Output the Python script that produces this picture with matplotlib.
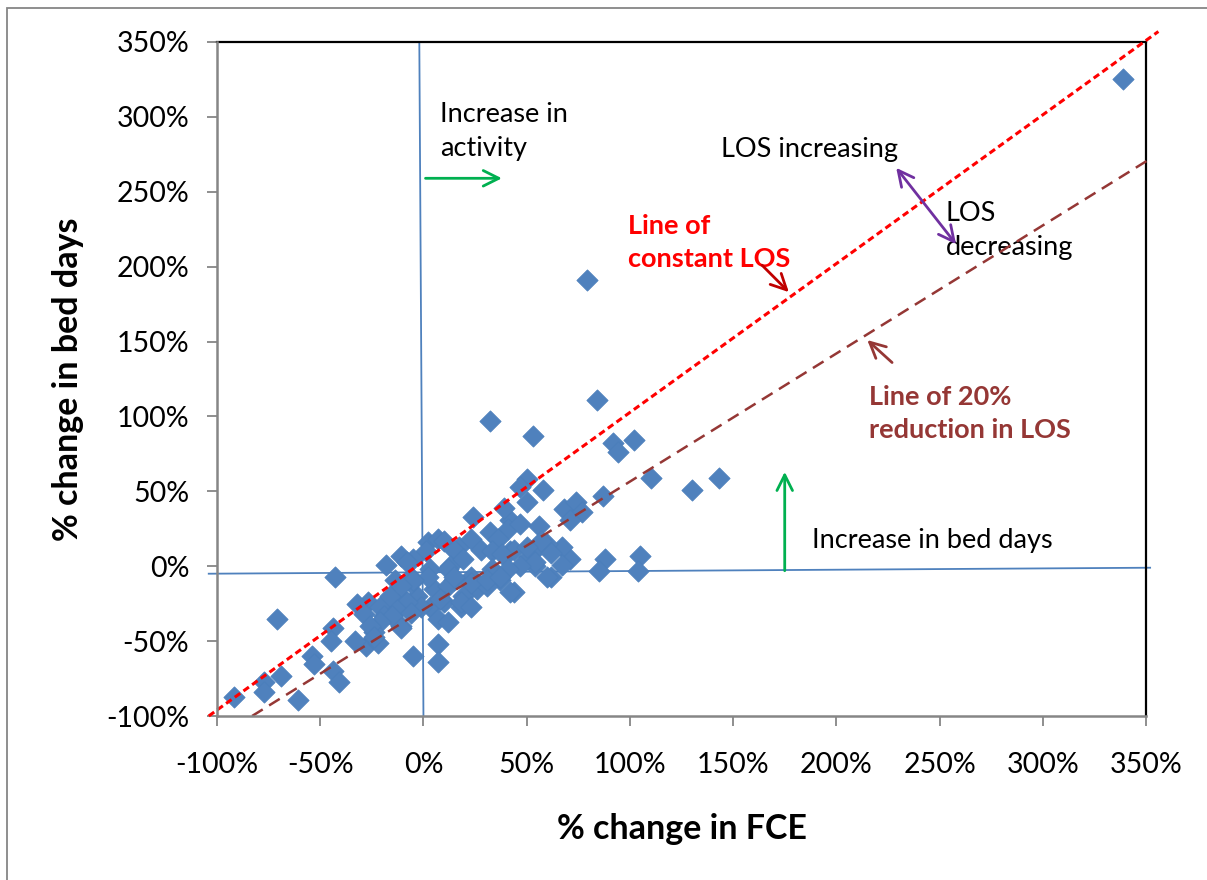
import matplotlib
matplotlib.use('Agg')
import matplotlib.pyplot as plt
import matplotlib.patches as mpatches
from matplotlib.ticker import FuncFormatter


# % change in FCE (x) and % change in bed days (y).
FCE_CHANGE = [
    339, 79, 84, 32, 53, 102, 92, 94, 110, 130, 143, 87, 105, 104, 88, 85, 71, 62, 44,
    50, 58, 47, 50, 68, 74, 77, 71, 56, 42, 41, 39, 24, 32, 47, 67, 60, 54, 51, 42,
    67, 54, 57, 62, 54, 60, 47, 44, 50,
    2, 7, 10, 1, 17, 23, 28, 36, 33, 38, 15, -5, -6, 3, 13, 19, 12, 15, 23, 33, 37,
    41, 26, 19, 31, 42, -3, 5, 12, 10, 3, 18, 2, 15, 23, 31, 37, 8, 18, 23, -1, 7,
    12, 7, 7, -5,
    -18, -11, -8, -14, -6, -5, -27, -21, -10, -16, -11, -8, -13, -19, -11, -15, -6,
    -21, -24, -28, -22, -11, -43, -71, -32, -44, -45, -33, -29, -26, -24, -54, -53,
    -44, -41, -69, -77, -77, -61, -92,
]
BED_DAYS_CHANGE = [
    325, 191, 111, 97, 87, 84, 82, 76, 59, 51, 59, 47, 7, -3, 5, -3, 5, -7, -17,
    58, 51, 53, 43, 38, 43, 36, 31, 27, 31, 25, 39, 33, 23, 28, 13, 15, 11, 6, 10,
    1, 0, 17, 9, 3, -7, 0, 11, 13,
    16, 18, 17, 10, 13, 18, 11, 18, 10, 8, 11, 5, -7, -2, 0, 5, -2, -9, -7, -2, -9,
    -2, -15, -20, -13, -17, -20, -15, -13, -24, -27, -27, -7, -7, -11, -9, -7, -22,
    -24, -27, -27, -35, -37, -52, -64, -60,
    1, 7, 3, -9, -11, -9, -24, -27, -22, -20, -13, -24, -29, -33, -40, -33, -31,
    -37, -44, -53, -51, -41, -7, -35, -25, -41, -50, -50, -32, -40, -47, -60, -65,
    -70, -77, -73, -77, -84, -89, -87,
]

# Reference lines (start and end points, in %).
CONSTANT_LOS_X = [-104, 356]
CONSTANT_LOS_Y = [-100, 357]
REDUCED_LOS_X = [-83, 352]
REDUCED_LOS_Y = [-100, 272]
ZERO_FCE_X = [-2, 0]
ZERO_FCE_Y = [350, -100]
ZERO_BED_X = [-104, 352]
ZERO_BED_Y = [-5, -1]

TICKS = [-100, -50, 0, 50, 100, 150, 200, 250, 300, 350]

BLUE = '#4F81BD'
GREY = '#868686'
FONT = 'Lato'

plt.rcParams['font.family'] = [FONT, 'DejaVu Sans']


def percent(value, _pos):
    return f'{value:.0f}%'


def main():
    fig = plt.figure(figsize=(12.07, 8.8), dpi=100)
    ax = fig.add_axes([217 / 1207, 1 - 716 / 880, 929 / 1207, 674 / 880])

    # Outer chart border (only left and top are visible in the crop).
    fig.add_artist(mpatches.Rectangle((7 / 1207, -0.1), 1.2, 1 - 8 / 880 + 0.1,
                                      transform=fig.transFigure, fill=False,
                                      edgecolor=GREY, linewidth=1.3))

    ax.set_xlim(-100, 350)
    ax.set_ylim(-100, 350)
    ax.set_xticks(TICKS)
    ax.set_yticks(TICKS)
    ax.xaxis.set_major_formatter(FuncFormatter(percent))
    ax.yaxis.set_major_formatter(FuncFormatter(percent))
    ax.tick_params(axis='both', direction='out', length=7, width=1.3, color=GREY,
                   labelsize=20.5, pad=13)
    ax.tick_params(axis='x', pad=19)

    for side in ('top', 'right'):
        ax.spines[side].set_color('black')
        ax.spines[side].set_linewidth(1.6)
    for side in ('left', 'bottom'):
        ax.spines[side].set_color(GREY)
        ax.spines[side].set_linewidth(1.8)
        ax.spines[side].set_zorder(5)

    ax.set_xlabel('% change in FCE', fontsize=24.5, fontweight='bold', labelpad=25)
    ax.set_ylabel('% change in bed days', fontsize=24.5, fontweight='bold', labelpad=16)

    # Quadrant lines.
    ax.plot(ZERO_FCE_X, ZERO_FCE_Y, color=BLUE, linewidth=1.3, zorder=2, clip_on=False)
    ax.plot(ZERO_BED_X, ZERO_BED_Y, color=BLUE, linewidth=1.3, zorder=2, clip_on=False)

    # Data points.
    ax.scatter(FCE_CHANGE, BED_DAYS_CHANGE, marker='D', s=118, color=BLUE,
               edgecolors='#4A7EBB', linewidths=0.5, zorder=3, clip_on=False)

    # LOS lines.
    ax.plot(CONSTANT_LOS_X, CONSTANT_LOS_Y, color='#FF0000', linewidth=2.2,
            linestyle=(0, (2.2, 1.3)), zorder=4, clip_on=False)
    ax.plot(REDUCED_LOS_X, REDUCED_LOS_Y, color='#953735', linewidth=1.8,
            linestyle=(0, (5, 3)), zorder=4, clip_on=False)

    # Arrows.
    def arrow(start, end, color, style='->'):
        ax.annotate('', xy=end, xytext=start,
                    arrowprops=dict(arrowstyle=style, color=color, lw=2,
                                    mutation_scale=28, shrinkA=0, shrinkB=0),
                    zorder=6)

    arrow((1, 259), (38, 259), '#00B050')
    arrow((175, -3), (175, 63), '#00B050')
    arrow((229, 266), (258, 215), '#7030A0', style='<->')
    arrow((164, 201), (177, 183), '#C00000')
    arrow((227, 136), (215, 151), '#953735')

    # Annotations.
    text_kw = dict(fontsize=19.5, va='center', ha='left', linespacing=1.45)
    ax.text(8, 290, 'Increase in\nactivity', **text_kw)
    ax.text(144, 278, 'LOS increasing', **text_kw)
    ax.text(253, 224, 'LOS\ndecreasing', **text_kw)
    ax.text(188, 17, 'Increase in bed days', **text_kw)
    ax.text(99, 216, 'Line of\nconstant LOS', color='#FF0000', fontweight='bold',
            **text_kw)
    ax.text(216, 102, 'Line of 20%\nreduction in LOS', color='#953735',
            fontweight='bold', **text_kw)

    fig.savefig('out.png', dpi=100)


if __name__ == '__main__':
    main()
